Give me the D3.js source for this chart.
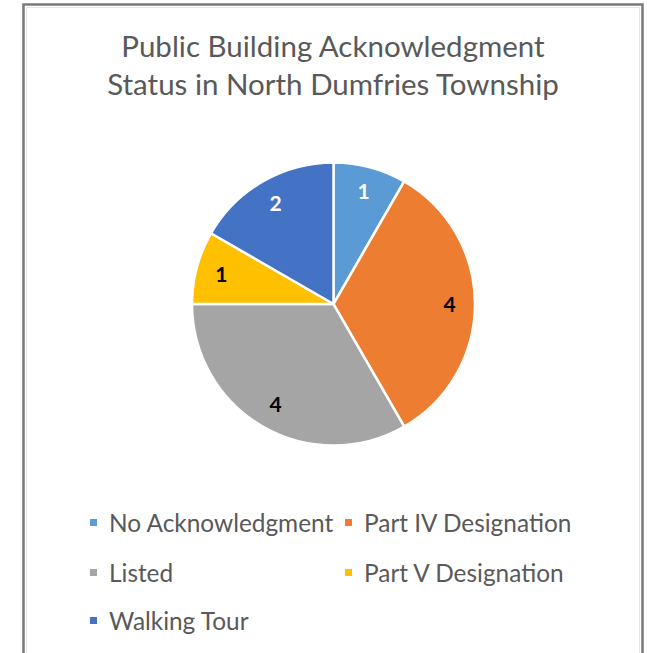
<!DOCTYPE html>
<html>
<head>
<meta charset="utf-8">
<script src="https://cdn.jsdelivr.net/npm/d3@7"></script>
<style>
  html, body { margin: 0; padding: 0; background: #fff; }
  svg { display: block; }
</style>
</head>
<body>
<svg id="chart" width="647" height="653"></svg>
<script>
// Building counts by acknowledgment status
const categories = ["No Acknowledgment", "Part IV Designation", "Listed", "Part V Designation", "Walking Tour"];
const counts = [1, 4, 4, 1, 2];
const sliceColors = ["#5B9BD5", "#ED7D31", "#A5A5A5", "#FFC000", "#4472C4"];
const labelColors = ["#ffffff", "#000000", "#000000", "#000000", "#ffffff"];
const titleLines = ["Public Building Acknowledgment", "Status in North Dumfries Township"];

const svg = d3.select("#chart");
const font = "Lato, 'Open Sans', sans-serif";

// Frame
svg.append("rect").attr("x", 26.5).attr("y", 7.5).attr("width", 613).attr("height", 660)
  .attr("fill", "none").attr("stroke", "#e6e6e6").attr("stroke-width", 1);
svg.append("path").attr("d", "M23.5,660 V4.5 H642.5 V660")
  .attr("fill", "none").attr("stroke", "#7a7a7a").attr("stroke-width", 2.5);

// Title
svg.append("g").selectAll("text").data(titleLines).join("text")
  .attr("x", 333).attr("y", (d, i) => 57 + i * 38)
  .attr("text-anchor", "middle")
  .attr("font-family", font).attr("font-size", 29.5)
  .attr("fill", "#595959")
  .text(d => d);

// Pie
const data = categories.map((c, i) => ({ name: c, value: counts[i], i }));
const cx = 333.5, cy = 304, r = 141.5;
const pie = d3.pie().value(d => d.value).sort(null);
const arc = d3.arc().innerRadius(0).outerRadius(r);
const labelArc = d3.arc().innerRadius(r * 0.82).outerRadius(r * 0.82);
const arcs = pie(data);

const g = svg.append("g").attr("transform", `translate(${cx},${cy})`);
g.selectAll("path").data(arcs).join("path")
  .attr("d", arc)
  .attr("fill", d => sliceColors[d.data.i])
  .attr("stroke", "#fff").attr("stroke-width", 2.5)
  .attr("stroke-linejoin", "round");

g.selectAll("text").data(arcs).join("text")
  .attr("transform", d => `translate(${labelArc.centroid(d)})`)
  .attr("text-anchor", "middle").attr("dy", "0.36em")
  .attr("font-family", font).attr("font-size", 21).attr("font-weight", "bold")
  .attr("fill", d => labelColors[d.data.i])
  .text(d => d.data.value);

// Legend: two columns, three rows
const legend = svg.append("g");
const colX = [90, 345], rowY = [523, 573, 621];
const items = legend.selectAll("g").data(data).join("g")
  .attr("transform", d => `translate(${colX[d.i % 2]},${rowY[Math.floor(d.i / 2)]})`);
items.append("rect").attr("x", 0).attr("y", -4).attr("width", 7).attr("height", 7)
  .attr("fill", d => sliceColors[d.i]);
items.append("text").attr("x", 19).attr("y", 0).attr("dy", "0.35em")
  .attr("font-family", font).attr("font-size", 24.4).attr("fill", "#595959")
  .text(d => d.name);
</script>
</body>
</html>
